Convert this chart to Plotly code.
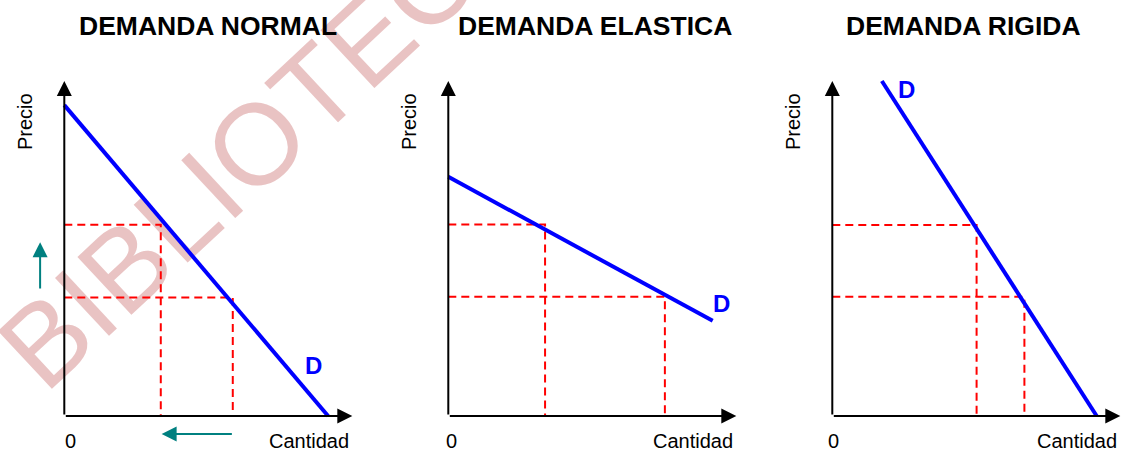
import plotly.graph_objects as go

# ---------------- data ----------------
titles = ["DEMANDA NORMAL", "DEMANDA ELASTICA", "DEMANDA RIGIDA"]
x_label = "Cantidad"
y_label = "Precio"
origin_label = "0"
curve_label = "D"
watermark = "BIBLIOTECA"

# demand curve end points: quantities and prices (one pair per panel)
demand_q = [[0.0, 9.16], [0.0, 9.18], [1.72, 9.18]]
demand_p = [[9.28, 0.0], [7.14, 2.84], [10.0, 0.0]]

# reference price levels (high, low) and their quantities (first, second)
price_levels = [[5.71, 3.54], [5.72, 3.56], [5.70, 3.56]]
quantity_levels = [[3.35, 5.85], [3.36, 7.52], [5.01, 6.67]]

# axis extent (arrow tips)
axis_max_q = 10.0
axis_max_p = 10.0

# teal movement arrows (first panel): price goes up, quantity goes down
price_move = [3.76, 5.19]
price_move_at_q = -0.84
qty_move = [5.87, 3.38]
qty_move_at_p = -0.54

# ---------------- layout helpers ----------------
W, H = 1125, 449
origin_px = [64.3, 448.3, 832.3]
origin_py = 416.0
ux, uy = 28.8, 33.5
xr = [-1.6, 10.1]
yr = [-0.9, 10.4]
FONT = "Arial, Liberation Sans, sans-serif"
BLUE = "#0000ff"
RED = "#ff0000"
TEAL = "#008080"

fig = go.Figure()
layout_axes = {}
annotations = []

for i in range(3):
    sx = "" if i == 0 else str(i + 1)
    xa, ya = "x" + sx, "y" + sx
    ox = origin_px[i]
    layout_axes["xaxis" + sx] = dict(
        domain=[(ox + xr[0] * ux) / W, (ox + xr[1] * ux) / W],
        range=xr, visible=False, fixedrange=True, anchor=ya)
    layout_axes["yaxis" + sx] = dict(
        domain=[1 - (origin_py - yr[0] * uy) / H, 1 - (origin_py - yr[1] * uy) / H],
        range=yr, visible=False, fixedrange=True, anchor=xa)

    # dashed reference lines
    p1, p2 = price_levels[i]
    q1, q2 = quantity_levels[i]
    fig.add_trace(go.Scatter(
        x=[0, q1, q1, None, 0, q2, q2],
        y=[p1, p1, 0, None, p2, p2, 0],
        mode="lines", line=dict(color=RED, width=2, dash="8px,5px"),
        xaxis=xa, yaxis=ya, hoverinfo="skip", showlegend=False))
    # demand curve
    fig.add_trace(go.Scatter(
        x=demand_q[i], y=demand_p[i], mode="lines",
        line=dict(color=BLUE, width=4),
        xaxis=xa, yaxis=ya, hoverinfo="skip", showlegend=False))

    # axes drawn as arrows
    for (tx, ty) in [(axis_max_q, 0), (0, axis_max_p)]:
        annotations.append(dict(
            x=tx, y=ty, ax=0, ay=0, xref=xa, yref=ya, axref=xa, ayref=ya,
            text="", showarrow=True, arrowhead=2, arrowsize=1.5,
            arrowwidth=2, arrowcolor="black", standoff=0))

    # texts
    annotations.append(dict(x=-1.37, y=8.8, xref=xa, yref=ya, text=y_label,
                            textangle=-90, showarrow=False,
                            font=dict(family=FONT, size=20, color="black")))
    annotations.append(dict(x=[0.2, 0.12, 0.03][i], y=-0.75, xref=xa, yref=ya,
                            text=origin_label, showarrow=False,
                            font=dict(family=FONT, size=20, color="black")))
    annotations.append(dict(x=9.95, y=-0.75, xref=xa, yref=ya, text=x_label,
                            xanchor="right", showarrow=False,
                            font=dict(family=FONT, size=20, color="black")))
    dpos = [(8.64, 1.52), (9.47, 3.37), (2.56, 9.76)][i]
    annotations.append(dict(x=dpos[0], y=dpos[1], xref=xa, yref=ya,
                            text="<b>" + curve_label + "</b>", showarrow=False,
                            font=dict(family=FONT, size=24, color=BLUE)))

# titles
for cx, t in zip([207.5, 595, 963.3], titles):
    annotations.append(dict(x=cx / W, y=1 - 26.5 / H, xref="paper", yref="paper",
                            xanchor="center", yanchor="middle",
                            text="<b>" + t + "</b>", showarrow=False,
                            font=dict(family=FONT, size=26.5, color="black")))

# teal movement arrows
annotations.append(dict(x=price_move_at_q, y=price_move[1], ax=price_move_at_q,
                        ay=price_move[0], xref="x", yref="y", axref="x", ayref="y",
                        text="", showarrow=True, arrowhead=2, arrowsize=1.5,
                        arrowwidth=2, arrowcolor=TEAL, standoff=0))
annotations.append(dict(x=qty_move[1], y=qty_move_at_p, ax=qty_move[0],
                        ay=qty_move_at_p, xref="x", yref="y", axref="x", ayref="y",
                        text="", showarrow=True, arrowhead=2, arrowsize=1.5,
                        arrowwidth=2, arrowcolor=TEAL, standoff=0))

# watermark behind the data
wx, wy = 258 / W, 1 - 127 / H
shapes = [dict(type="rect", xref="paper", yref="paper",
               x0=wx - 0.05, x1=wx + 0.05, y0=wy - 0.05, y1=wy + 0.05,
               layer="below", line=dict(width=0), fillcolor="rgba(0,0,0,0)",
               label=dict(text=watermark, textangle=-43,
                          textposition="middle center",
                          font=dict(family=FONT, size=115, color="#e9c3c3")))]

fig.update_layout(
    width=W, height=H, margin=dict(l=0, r=0, t=0, b=0),
    paper_bgcolor="white", plot_bgcolor="rgba(0,0,0,0)",
    showlegend=False, annotations=annotations, shapes=shapes,
    **layout_axes)

fig.write_html("out.html", config={"displayModeBar": False},
               post_script="document.body.style.margin='0px';"
                           "document.body.style.overflow='hidden';")
